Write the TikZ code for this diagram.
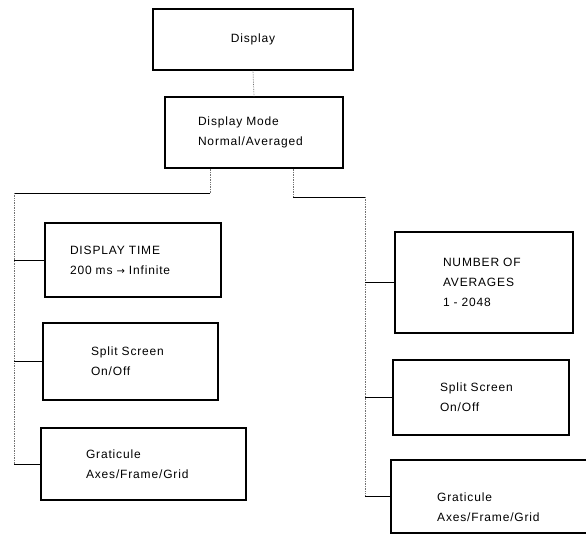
\documentclass[tikz,border=0pt]{standalone}
\usepackage{fontspec}
\newfontfamily\diagfont[LetterSpace=7]{Liberation Sans}
\newfontfamily\arrowfont{DejaVu Sans}
\begin{document}
\begin{tikzpicture}[x=1pt,y=-1pt,
  box/.style={draw=black, line width=1.1pt, inner ysep=0pt,
    font=\diagfont\fontsize{12}{20}\selectfont, align=left},
  boxtext/.style={inner sep=0pt, font=\diagfont\fontsize{12}{20}\selectfont, align=left},
  link/.style={line width=0.9pt, black},
  trunk/.style={line width=0.7pt, black!55, densely dotted}]
\useasboundingbox (0,0) rectangle (586,535);
\clip (0,0) rectangle (586,535);
\fill[white] (0,0) rectangle (586,535);

% boxes
\node[box, align=center, minimum width=200pt, minimum height=61pt] (disp) at (253,39.5) {Display};
\node[box, minimum width=178pt, minimum height=71pt, inner xsep=33pt, text width=112pt] (mode) at (254,132.5) {Display Mode\\Normal/Averaged};

\node[box, minimum width=176pt, minimum height=74pt, inner xsep=25pt, text width=126pt] (time) at (133,260) {DISPLAY TIME\\200 ms {\arrowfont\fontsize{10}{20}\selectfont →} Infinite};
\node[box, minimum width=175pt, minimum height=77pt, inner xsep=48pt, text width=79pt] (splitL) at (130.5,361.5) {Split Screen\\On/Off};
\node[box, minimum width=205pt, minimum height=72pt, inner xsep=45pt, text width=115pt] (gratL) at (143.5,464) {Graticule\\Axes/Frame/Grid};

\node[box, minimum width=178pt, minimum height=101pt, inner xsep=48pt, text width=82pt] (number) at (484,282.5) {NUMBER OF\\AVERAGES\\1 - 2048};
\node[box, minimum width=176pt, minimum height=75pt, inner xsep=47pt, text width=82pt] (splitR) at (481,397.5) {Split Screen\\On/Off};
\node[box, minimum width=209pt, minimum height=73pt] (gratR) at (495.5,496.5) {};
\node[boxtext, anchor=west] (gratRt) at (437,507) {Graticule\\Axes/Frame/Grid};

% connectors
\draw[trunk] (disp.south) -- (mode.north);

\path (mode.south) ++(-44,0) coordinate (mL);
\coordinate (cL) at (14,193);
\draw[trunk] (mL) -- (mL |- cL);
\draw[link] (mL |- cL) -- (cL);
\draw[trunk] (cL) -- (cL |- gratL.west);
\draw[link] (cL |- time.west) -- (time.west);
\draw[link] (cL |- splitL.west) -- (splitL.west);
\draw[link] (cL |- gratL.west) -- (gratL.west);

\path (mode.south) ++(39,0) coordinate (mR);
\coordinate (cR) at (365,197);
\draw[trunk] (mR) -- (mR |- cR);
\draw[link] (mR |- cR) -- (cR);
\draw[trunk] (cR) -- (cR |- gratR.west);
\draw[link] (cR |- number.west) -- (number.west);
\draw[link] (cR |- splitR.west) -- (splitR.west);
\draw[link] (cR |- gratR.west) -- (gratR.west);
\end{tikzpicture}
\end{document}
